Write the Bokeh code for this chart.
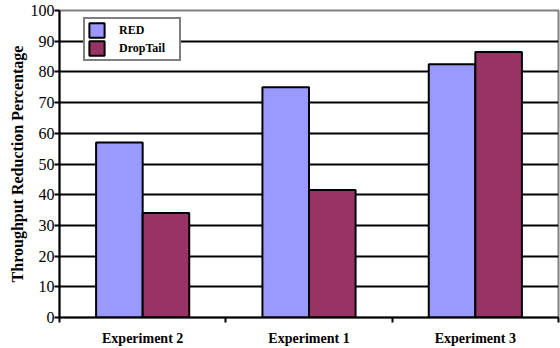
from bokeh.plotting import figure
from bokeh.models import FixedTicker, Range1d, ColumnDataSource, Legend, LegendItem
from bokeh.embed import file_html
from bokeh.resources import INLINE

# Throughput reduction per experiment
experiments = ["Experiment 2", "Experiment 1", "Experiment 3"]
red_values = [57, 75, 82.5]
droptail_values = [34, 41.5, 86.5]
y_ticks = [0, 10, 20, 30, 40, 50, 60, 70, 80, 90, 100]

RED_COLOR = "#9999FF"
DROP_COLOR = "#993366"
SERIF = "'Liberation Serif', 'Times New Roman', serif"

centers = [i + 0.5 for i in range(len(experiments))]
bar_w = 0.28
src = ColumnDataSource(dict(
    red_x=[c - bar_w / 2 for c in centers],
    drop_x=[c + bar_w / 2 for c in centers],
    red=red_values,
    drop=droptail_values,
))

p = figure(width=560, height=348, output_backend="svg", toolbar_location=None,
           x_range=Range1d(0, len(experiments)), y_range=Range1d(0, 100))
p.min_border_left = 59
p.min_border_right = 2
p.min_border_top = 10
p.min_border_bottom = 30
p.background_fill_color = "white"
p.border_fill_color = "white"
p.outline_line_color = "#808080"
p.outline_line_width = 2

r_red = p.vbar(x="red_x", top="red", width=bar_w, source=src,
               fill_color=RED_COLOR, line_color="black", line_width=2)
r_drop = p.vbar(x="drop_x", top="drop", width=bar_w, source=src,
                fill_color=DROP_COLOR, line_color="black", line_width=2)

# x axis: labels at category centres, tick marks at category boundaries
xa = p.xaxis[0]
xa.ticker = FixedTicker(ticks=centers, minor_ticks=list(range(len(experiments) + 1)))
xa.major_label_overrides = {c: name for c, name in zip(centers, experiments)}
xa.major_tick_out = 0
xa.major_tick_in = 0
xa.minor_tick_out = 5
xa.minor_tick_in = 0
xa.minor_tick_line_color = "black"
xa.minor_tick_line_width = 2
xa.axis_line_color = "black"
xa.axis_line_width = 2
xa.major_label_text_font = SERIF
xa.major_label_text_font_style = "bold"
xa.major_label_text_font_size = "14px"
xa.major_label_text_color = "black"
xa.major_label_standoff = 8

ya = p.yaxis[0]
ya.ticker = FixedTicker(ticks=y_ticks)
ya.minor_tick_line_color = None
ya.major_tick_out = 5
ya.major_tick_in = 0
ya.major_tick_line_color = "black"
ya.major_tick_line_width = 2
ya.axis_line_color = "black"
ya.axis_line_width = 2
ya.major_label_text_font = SERIF
ya.major_label_text_font_size = "16px"
ya.major_label_text_color = "black"
ya.major_label_standoff = 0
ya.axis_label = "Throughput Reduction Percentage"
ya.axis_label_text_font = SERIF
ya.axis_label_text_font_style = "bold"
ya.axis_label_text_font_size = "16px"
ya.axis_label_text_color = "black"
ya.axis_label_standoff = 2

p.xgrid.grid_line_color = None
p.ygrid.ticker = FixedTicker(ticks=y_ticks[1:-1])
p.ygrid.grid_line_color = "black"
p.ygrid.grid_line_width = 2

legend = Legend(items=[LegendItem(label="RED", renderers=[r_red]),
                       LegendItem(label="DropTail", renderers=[r_drop])],
                location=(24, 256))
legend.label_text_font = SERIF
legend.label_text_font_style = "bold"
legend.label_text_font_size = "12px"
legend.label_text_color = "black"
legend.glyph_width = 19
legend.glyph_height = 18
legend.spacing = 0
legend.padding = 2
legend.margin = 0
legend.label_standoff = 13
legend.label_height = 18
legend.label_width = 58
legend.border_line_color = "black"
legend.border_line_width = 2
legend.background_fill_color = "white"
legend.background_fill_alpha = 1
p.add_layout(legend, "center")

open("out.html", "w").write(file_html(p, INLINE))
